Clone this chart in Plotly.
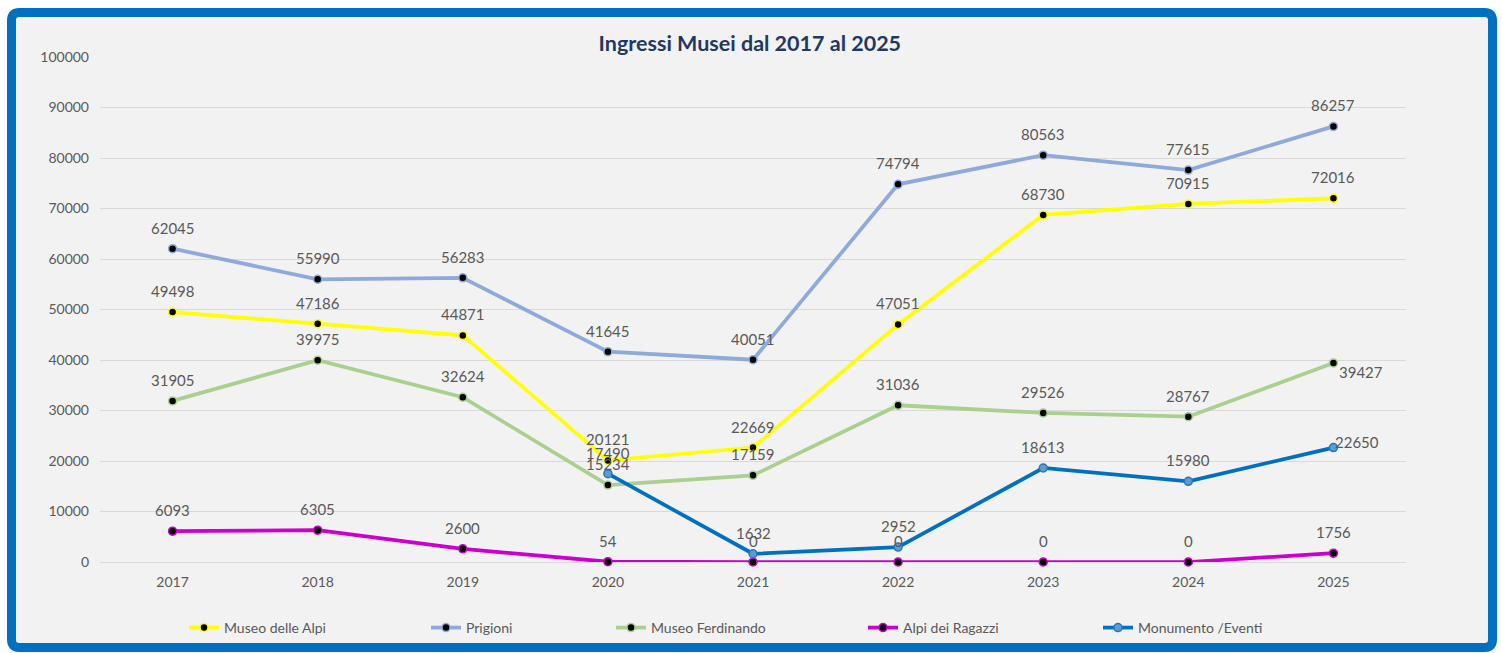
import plotly.graph_objects as go

years = [2017, 2018, 2019, 2020, 2021, 2022, 2023, 2024, 2025]
museo_alpi = [49498, 47186, 44871, 20121, 22669, 47051, 68730, 70915, 72016]
prigioni = [62045, 55990, 56283, 41645, 40051, 74794, 80563, 77615, 86257]
museo_ferdinando = [31905, 39975, 32624, 15234, 17159, 31036, 29526, 28767, 39427]
alpi_ragazzi = [6093, 6305, 2600, 54, 0, 0, 0, 0, 1756]
monumento = [None, None, None, 17490, 1632, 2952, 18613, 15980, 22650]

W, H = 1502, 653
L, R, T, B = 100, 96, 57, 91
PW, PH = W - L - R, H - T - B


def px(x):
    return (x - L) / PW


def py(y):
    return (H - B - y) / PH


FONT = "Lato, 'Open Sans', sans-serif"
LABEL_COLOR = "#595959"

fig = go.Figure()

series = [
    ("Museo delle Alpi", museo_alpi, "#FFFF00", "black", "#FFFF00"),
    ("Prigioni", prigioni, "#8EA9DB", "black", "#8EA9DB"),
    ("Museo Ferdinando", museo_ferdinando, "#A9D08E", "black", "#A9D08E"),
    ("Alpi dei Ragazzi", alpi_ragazzi, "#CC00CC", "black", "#CC00CC"),
    ("Monumento /Eventi", monumento, "#0070C0", "#5B9BD5", "#2E75B6"),
]

legend_x = [190, 432, 617, 869, 1104]
annotations = []

for i, (name, vals, lc, mfill, mline) in enumerate(series):
    lg = "legend" if i == 0 else f"legend{i+1}"
    fig.add_trace(go.Scatter(
        x=years, y=vals, name=name, mode="lines+markers",
        line=dict(color=lc, width=3.75),
        marker=dict(size=8, color=mfill, line=dict(color=mline, width=1.5)),
        cliponaxis=False, legend=lg,
    ))
    for j, (xv, v) in enumerate(zip(years, vals)):
        if v is None:
            continue
        right = (j == len(vals) - 1 and name in ("Museo Ferdinando", "Monumento /Eventi"))
        if right:
            ann = dict(x=xv, y=v, text=str(v), showarrow=False,
                       xanchor="left", yanchor="middle",
                       xshift=0 if name == "Monumento /Eventi" else 4,
                       yshift=6 if name == "Monumento /Eventi" else -9)
        else:
            ann = dict(x=xv, y=v, text=str(v), showarrow=False,
                       xanchor="center", yanchor="middle", yshift=21)
        ann["font"] = dict(family=FONT, size=15, color=LABEL_COLOR)
        annotations.append(ann)

legends = {}
for i, lx in enumerate(legend_x):
    key = "legend" if i == 0 else f"legend{i+1}"
    legends[key] = dict(
        x=px(lx - 6), y=py(628), xanchor="left", yanchor="middle",
        orientation="h", bgcolor="rgba(0,0,0,0)",
        font=dict(family=FONT, size=14, color=LABEL_COLOR),
        itemwidth=30, tracegroupgap=0,
    )


def rounded_rect(x0, y0, x1, y1, r):
    def P(x, y):
        return f"{px(x):.6f},{py(y):.6f}"
    path = (f"M {P(x0 + r, y0)} L {P(x1 - r, y0)} Q {P(x1, y0)} {P(x1, y0 + r)} "
            f"L {P(x1, y1 - r)} Q {P(x1, y1)} {P(x1 - r, y1)} "
            f"L {P(x0 + r, y1)} Q {P(x0, y1)} {P(x0, y1 - r)} "
            f"L {P(x0, y0 + r)} Q {P(x0, y0)} {P(x0 + r, y0)} Z")
    return path


fig.add_shape(type="path", xref="paper", yref="paper",
              path=rounded_rect(11.5, 12.5, 1492.5, 647.5, 8),
              line=dict(color="#0070C0", width=9), fillcolor="#F2F2F2",
              layer="below")

fig.update_layout(
    width=W, height=H,
    margin=dict(l=L, r=R, t=T, b=B, autoexpand=False),
    paper_bgcolor="white", plot_bgcolor="rgba(0,0,0,0)",
    title=dict(text="<b>Ingressi Musei dal 2017 al 2025</b>",
               x=px(752), xanchor="center", y=1 - 43 / H, yanchor="middle",
               font=dict(family=FONT, size=21.5, color="#1F3864")),
    xaxis=dict(type="linear", range=[2016.5, 2025.5], tickvals=years,
               ticktext=[str(y) for y in years], showgrid=False, zeroline=False,
               showline=False, ticks="", ticklabelstandoff=10,
               tickfont=dict(family=FONT, size=14, color=LABEL_COLOR)),
    yaxis=dict(range=[0, 100000], dtick=10000, tickformat="d",
               gridcolor="#D9D9D9", gridwidth=1, zeroline=True,
               zerolinecolor="#D9D9D9", zerolinewidth=1, showline=False,
               ticks="", ticklabelstandoff=10,
               tickfont=dict(family=FONT, size=14, color=LABEL_COLOR)),
    showlegend=True,
    annotations=annotations,
    **legends,
)

fig.write_html("out.html")
